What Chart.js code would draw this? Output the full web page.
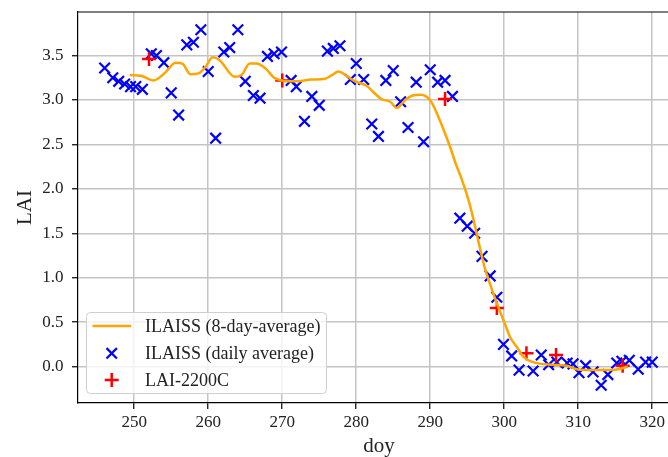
<!DOCTYPE html>
<html>
<head>
<meta charset="utf-8">
<script src="https://cdn.jsdelivr.net/npm/chart.js@4/dist/chart.umd.min.js"></script>
<style>
    html, body { margin: 0; padding: 0; background: #fff; overflow: hidden; }
    #wrap { position: absolute; left: 0; top: 0; width: 690px; height: 457px; }
</style>
</head>
<body>
<div id="wrap"><canvas id="laiChart" width="690" height="457"></canvas></div>
<script>
// ILAISS 8-day average curve
const avgDoy = [249.4, 251.0, 252.6, 254.1, 255.6, 256.5, 257.6, 258.7, 259.6, 260.6, 261.5,
    263.6, 264.5, 265.6, 266.5, 267.8, 268.9, 269.9, 271.7, 274.0, 275.8, 276.7, 277.6,
    278.2, 279.6, 281.4, 282.3, 283.4, 284.6, 285.5, 286.6, 287.6, 288.8, 289.6, 290.2,
    291.3, 292.6, 293.5, 294.2, 295.0, 295.6, 296.4, 297.3, 298.2, 299.1, 300.0, 300.8,
    301.7, 302.6, 303.9, 306.6, 308.4, 309.8, 312.7, 315.4, 316.7];
const avgLai = [3.28, 3.27, 3.22, 3.30, 3.42, 3.41, 3.29, 3.30, 3.37, 3.48, 3.45,
    3.26, 3.28, 3.41, 3.41, 3.35, 3.25, 3.22, 3.21, 3.23, 3.24, 3.28, 3.32,
    3.30, 3.22, 3.16, 3.09, 3.01, 2.98, 2.91, 3.00, 3.05, 3.06, 3.03, 2.97,
    2.77, 2.49, 2.27, 2.12, 1.92, 1.74, 1.45, 1.13, 0.90, 0.69, 0.50, 0.33,
    0.22, 0.11, 0.05, 0.02, 0.01, -0.03, -0.04, -0.03, 0.00];

// ILAISS daily average
const dailyDoy = [246.0, 247.1, 247.9, 248.7, 249.5, 250.2, 251.1, 252.3, 253.0, 254.0,
    255.0, 256.0, 257.1, 258.0, 259.0, 260.0, 261.0, 262.1, 262.9, 264.0,
    265.0, 266.1, 267.0, 268.0, 268.9, 269.9, 271.2, 271.9, 273.0, 274.0,
    275.0, 276.1, 276.9, 277.8, 279.2, 280.0, 281.0, 282.1, 283.0, 284.0,
    285.0, 286.0, 287.0, 288.1, 289.1, 290.0, 291.0, 292.0, 293.0, 294.0,
    295.0, 296.0, 297.0, 298.1, 299.0, 299.9, 301.0, 302.0, 303.9, 305.0,
    306.0, 307.1, 308.5, 309.3, 310.1, 311.0, 312.0, 313.1, 314.0, 315.2,
    315.9, 316.9, 318.1, 319.1, 320.0];
const dailyLai = [3.36, 3.25, 3.21, 3.18, 3.15, 3.15, 3.12, 3.52, 3.50, 3.42,
    3.08, 2.83, 3.62, 3.65, 3.79, 3.32, 2.57, 3.54, 3.59, 3.79,
    3.21, 3.05, 3.02, 3.49, 3.52, 3.54, 3.22, 3.15, 2.76, 3.04,
    2.94, 3.55, 3.58, 3.61, 3.23, 3.41, 3.23, 2.73, 2.59, 3.22,
    3.33, 2.98, 2.69, 3.20, 2.53, 3.34, 3.20, 3.22, 3.04, 1.67,
    1.58, 1.50, 1.24, 1.02, 0.78, 0.25, 0.12, -0.04, -0.05, 0.13,
    0.02, 0.05, 0.04, 0.03, -0.07, 0.01, -0.06, -0.21, -0.09, 0.04,
    0.06, 0.07, -0.03, 0.05, 0.05];

// LAI-2200C field measurements
const fieldDoy = [252, 270, 292, 299, 303, 307, 316];
const fieldLai = [3.46, 3.22, 3.01, 0.66, 0.15, 0.13, 0.01];

const xTicks = [250, 260, 270, 280, 290, 300, 310, 320];
const yTicks = [0.0, 0.5, 1.0, 1.5, 2.0, 2.5, 3.0, 3.5];

const legendLabels = ['ILAISS (8-day-average)', 'ILAISS (daily average)', 'LAI-2200C'];

const SERIF = "'Liberation Serif', 'Times New Roman', serif";
const toPoints = (xs, ys) => xs.map((x, i) => ({ x: x, y: ys[i] }));

// top/right spines and the boxed legend in the lower left
const framePlugin = {
    id: 'frame',
    afterDraw(chart) {
        const ctx = chart.ctx;
        const a = chart.chartArea;
        ctx.save();
        ctx.strokeStyle = '#000';
        ctx.lineWidth = 1.2;
        ctx.beginPath();
        ctx.moveTo(a.left, a.top);
        ctx.lineTo(a.right, a.top);
        ctx.lineTo(a.right, a.bottom);
        ctx.stroke();

        // legend box
        const bx = 86.5, by = 312.5, bw = 240, bh = 81, r = 4;
        ctx.beginPath();
        ctx.moveTo(bx + r, by);
        ctx.arcTo(bx + bw, by, bx + bw, by + bh, r);
        ctx.arcTo(bx + bw, by + bh, bx, by + bh, r);
        ctx.arcTo(bx, by + bh, bx, by, r);
        ctx.arcTo(bx, by, bx + bw, by, r);
        ctx.closePath();
        ctx.fillStyle = 'rgba(255,255,255,0.8)';
        ctx.fill();
        ctx.strokeStyle = '#cfcfcf';
        ctx.lineWidth = 1;
        ctx.stroke();

        const mx = 111.7;
        const rows = [326, 353.3, 380];
        ctx.lineCap = 'butt';
        // line sample
        ctx.strokeStyle = '#ffa500';
        ctx.lineWidth = 2.5;
        ctx.beginPath();
        ctx.moveTo(92.5, rows[0]);
        ctx.lineTo(131, rows[0]);
        ctx.stroke();
        // x marker
        ctx.strokeStyle = '#0000ff';
        ctx.lineWidth = 2.2;
        const d = 5.2;
        ctx.beginPath();
        ctx.moveTo(mx - d, rows[1] - d);
        ctx.lineTo(mx + d, rows[1] + d);
        ctx.moveTo(mx - d, rows[1] + d);
        ctx.lineTo(mx + d, rows[1] - d);
        ctx.stroke();
        // + marker
        ctx.strokeStyle = '#ff0000';
        ctx.lineWidth = 2.5;
        const p = 7;
        ctx.beginPath();
        ctx.moveTo(mx - p, rows[2]);
        ctx.lineTo(mx + p, rows[2]);
        ctx.moveTo(mx, rows[2] - p);
        ctx.lineTo(mx, rows[2] + p);
        ctx.stroke();

        ctx.fillStyle = '#222';
        ctx.font = '18px ' + SERIF;
        ctx.textAlign = 'left';
        ctx.textBaseline = 'middle';
        legendLabels.forEach((t, i) => ctx.fillText(t, 145, rows[i] + 1));
        ctx.restore();
    }
};

new Chart(document.getElementById('laiChart'), {
    data: {
        datasets: [
            {
                type: 'line',
                label: legendLabels[0],
                data: toPoints(avgDoy, avgLai),
                borderColor: '#ffa500',
                borderWidth: 2.5,
                pointRadius: 0,
                cubicInterpolationMode: 'monotone',
                fill: false,
                order: 1
            },
            {
                type: 'scatter',
                label: legendLabels[1],
                data: toPoints(dailyDoy, dailyLai),
                pointStyle: 'crossRot',
                pointRadius: 7.5,
                borderColor: '#0000ff',
                borderWidth: 2.2,
                order: 3
            },
            {
                type: 'scatter',
                label: legendLabels[2],
                data: toPoints(fieldDoy, fieldLai),
                pointStyle: 'cross',
                pointRadius: 7,
                borderColor: '#ff0000',
                borderWidth: 2.5,
                order: 2
            }
        ]
    },
    options: {
        responsive: false,
        animation: false,
        events: [],
        layout: { autoPadding: false, padding: { top: 12, right: 10, left: 0, bottom: 0 } },
        plugins: {
            legend: { display: false },
            tooltip: { enabled: false }
        },
        scales: {
            x: {
                type: 'linear',
                min: 242.4,
                max: 323.75,
                afterBuildTicks: (scale) => { scale.ticks = xTicks.map(v => ({ value: v })); },
                afterFit: (scale) => {
                    scale.height = 54;
                    scale.paddingLeft = 0;
                    scale.paddingRight = 0;
                },
                grid: { color: '#c4c4c4', lineWidth: 1.5, tickLength: 6, tickColor: '#000', tickWidth: 1.2 },
                border: { color: '#000', width: 1.2 },
                ticks: {
                    color: '#222',
                    padding: 3,
                    font: { family: SERIF, size: 17 },
                    callback: (v) => String(v)
                },
                title: {
                    display: true,
                    text: 'doy',
                    color: '#222',
                    font: { family: SERIF, size: 21, lineHeight: 1 },
                    padding: { top: 0, bottom: 0 }
                }
            },
            y: {
                type: 'linear',
                min: -0.41,
                max: 3.99,
                afterBuildTicks: (scale) => { scale.ticks = yTicks.map(v => ({ value: v })); },
                afterFit: (scale) => {
                    scale.width = 78;
                    scale.paddingTop = 0;
                    scale.paddingBottom = 0;
                },
                grid: { color: '#c4c4c4', lineWidth: 1.5, tickLength: 6, tickColor: '#000', tickWidth: 1.2 },
                border: { color: '#000', width: 1.2 },
                ticks: {
                    color: '#222',
                    padding: 8.5,
                    font: { family: SERIF, size: 17 },
                    callback: (v) => v.toFixed(1)
                },
                title: {
                    display: true,
                    text: 'LAI',
                    color: '#222',
                    font: { family: SERIF, size: 21, lineHeight: 1 },
                    padding: { top: 15, bottom: 0 }
                }
            }
        }
    },
    plugins: [framePlugin]
});
</script>
</body>
</html>
